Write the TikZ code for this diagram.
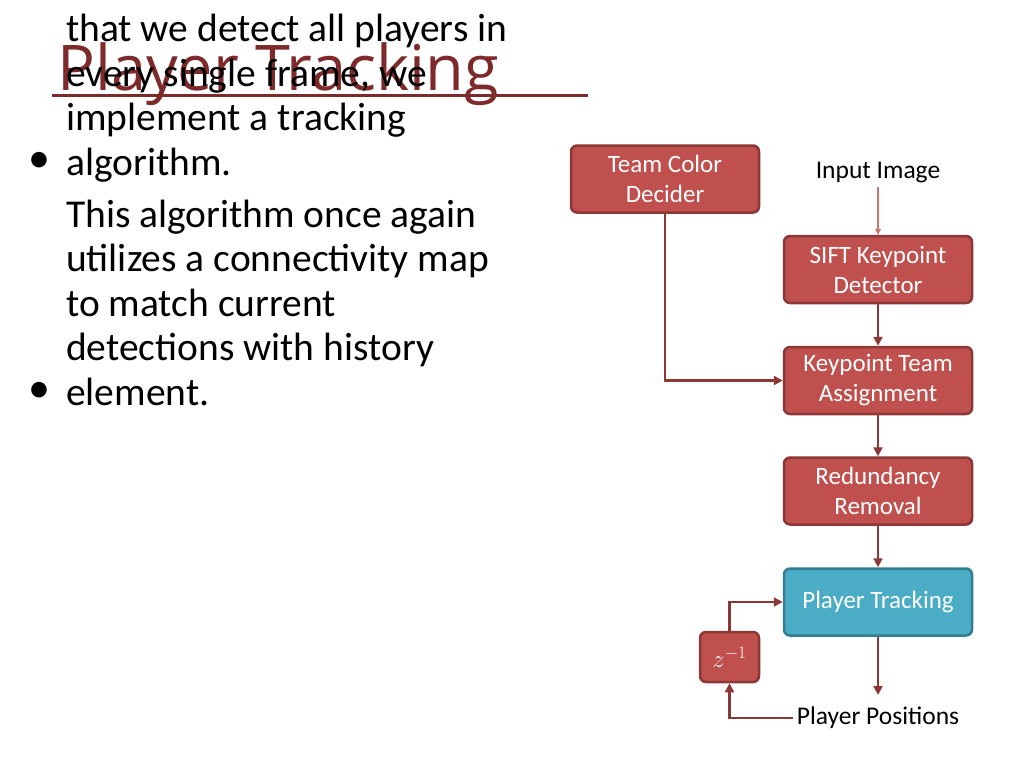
\documentclass[tikz,border=0pt]{standalone}
\usepackage{fontspec}
\setmainfont{Carlito}
\newfontfamily\titlefont{Open Sans}
\usetikzlibrary{arrows.meta}
\definecolor{tred}{HTML}{7F2A2A}
\definecolor{bfill}{HTML}{C0504D}
\definecolor{bline}{HTML}{8C3836}
\definecolor{cfill}{HTML}{4BACC6}
\definecolor{cline}{HTML}{357D91}
\begin{document}
\begin{tikzpicture}[x=1pt,y=-1pt,
 box/.style={draw=bline,line width=2.5pt,fill=bfill,rounded corners=6pt,minimum width=188pt,minimum height=67pt,align=center,text=white,font=\fontsize{25}{30}\selectfont},
 arr/.style={draw=bline,line width=2.5pt,-{Triangle[length=9pt,width=9pt]}},
 txt/.style={font=\fontsize{25.5}{30}\selectfont},
 body/.style={anchor=base west,align=left,font=\fontsize{39.5}{44.5}\selectfont,inner sep=0pt},
 bul/.style={anchor=base west,font=\fontsize{44}{44.5}\selectfont,inner sep=0pt}]
\useasboundingbox (0,0) rectangle (1024,768);
\node[text=tred,font=\titlefont\fontsize{63}{66}\selectfont,anchor=base west,inner sep=0pt] (title) at (57,90) {Player Tracking};
\draw[tred,line width=3pt] (52,95) -- (588,95);
\node[body] (b1) at (66,175) {Since it cannot be assumed\\that we detect all players in\\every single frame, we\\implement a tracking\\algorithm.};
\node[bul] (d1) at (28,172) {•};
\node[body] (b2) at (66,405) {This algorithm once again\\utilizes a connectivity map\\to match current\\detections with history\\element.};
\node[bul] (d2) at (28,402) {•};
\node[box] (tcd) at (665,179) {Team Color\\Decider};
\node[box] (sift) at (878,269.5) {SIFT Keypoint\\Detector};
\node[box] (kta) at (878,380.5) {Keypoint Team\\Assignment};
\node[box] (rr) at (878,491) {Redundancy\\Removal};
\node[box,fill=cfill,draw=cline] (pt) at (878,602) {Player Tracking};
\node[box,minimum width=59pt,minimum height=50pt] (z) at (729.5,657) {$z^{-1}$};
\node[txt] (in) at (878,173) {Input Image};
\node[txt] (pp) at (878,718) {Player Positions};
\coordinate (ppend) at (878,695);
\draw[arr,draw=bfill!80,line width=1.2pt,-{Triangle[length=6pt,width=6pt]}] (in) -- (sift);
\draw[arr] (sift) -- (kta);
\draw[arr] (kta) -- (rr);
\draw[arr] (rr) -- (pt);
\draw[arr] (pt) -- (ppend);
\draw[arr] (tcd.south) |- (kta.west);
\draw[arr] (z.north) |- (pt.west);
\draw[arr] (pp.west) -| (z.south);
\end{tikzpicture}
\end{document}
